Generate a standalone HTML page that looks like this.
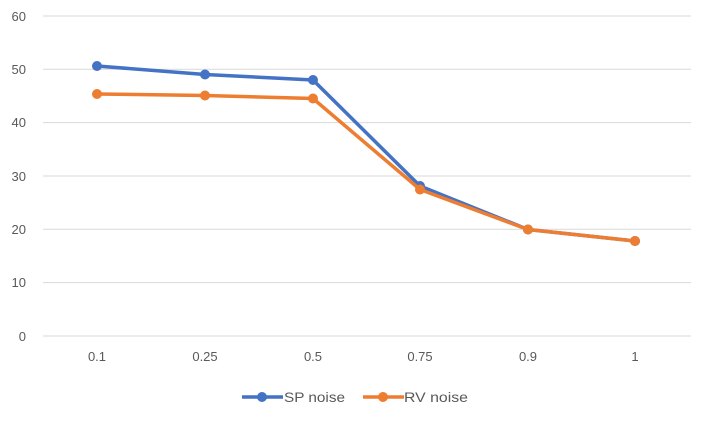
<!DOCTYPE html>
<html><head><style>body{margin:0;background:#fff}</style></head><body>
<svg width="702" height="421" xmlns="http://www.w3.org/2000/svg" font-family="Liberation Sans, sans-serif">
<g stroke="#d9d9d9" stroke-width="1">
<line x1="43" x2="691" y1="16" y2="16"/><line x1="43" x2="691" y1="69.3" y2="69.3"/>
<line x1="43" x2="691" y1="122.6" y2="122.6"/><line x1="43" x2="691" y1="176" y2="176"/>
<line x1="43" x2="691" y1="229.3" y2="229.3"/><line x1="43" x2="691" y1="282.6" y2="282.6"/>
<line x1="43" x2="691" y1="336" y2="336"/>
</g>
<g fill="#595959" font-size="13" text-anchor="end">
<text x="26" y="21">60</text><text x="26" y="74">50</text><text x="26" y="127">40</text>
<text x="26" y="181">30</text><text x="26" y="234">20</text><text x="26" y="287">10</text><text x="26" y="341">0</text>
</g>
<g fill="#595959" font-size="13" text-anchor="middle">
<text x="97" y="361">0.1</text><text x="205" y="361">0.25</text><text x="313" y="361">0.5</text>
<text x="420" y="361">0.75</text><text x="528" y="361">0.9</text><text x="635" y="361">1</text>
</g>
<polyline fill="none" stroke="#4472c4" stroke-width="3.5" points="97,66 205,74.5 313,80 420,186 528,229.5 635,241"/>
<g fill="#4472c4"><circle cx="97" cy="66" r="5"/><circle cx="205" cy="74.5" r="5"/><circle cx="313" cy="80" r="5"/><circle cx="420" cy="186" r="5"/><circle cx="528" cy="229.5" r="5"/><circle cx="635" cy="241" r="5"/></g>
<polyline fill="none" stroke="#ed7d31" stroke-width="3.5" points="97,94 205,95.5 313,98.5 420,189.5 528,229.5 635,241"/>
<g fill="#ed7d31"><circle cx="97" cy="94" r="5"/><circle cx="205" cy="95.5" r="5"/><circle cx="313" cy="98.5" r="5"/><circle cx="420" cy="189.5" r="5"/><circle cx="528" cy="229.5" r="5"/><circle cx="635" cy="241" r="5"/></g>
<line x1="242" x2="283" y1="397" y2="397" stroke="#4472c4" stroke-width="3.5"/><circle cx="262" cy="397" r="5" fill="#4472c4"/>
<text x="284" y="402" font-size="14" fill="#595959" textLength="61" lengthAdjust="spacingAndGlyphs">SP noise</text>
<line x1="363" x2="404" y1="397" y2="397" stroke="#ed7d31" stroke-width="3.5"/><circle cx="383" cy="397" r="5" fill="#ed7d31"/>
<text x="404" y="402" font-size="14" fill="#595959" textLength="64" lengthAdjust="spacingAndGlyphs">RV noise</text>
</svg>
</body></html>
